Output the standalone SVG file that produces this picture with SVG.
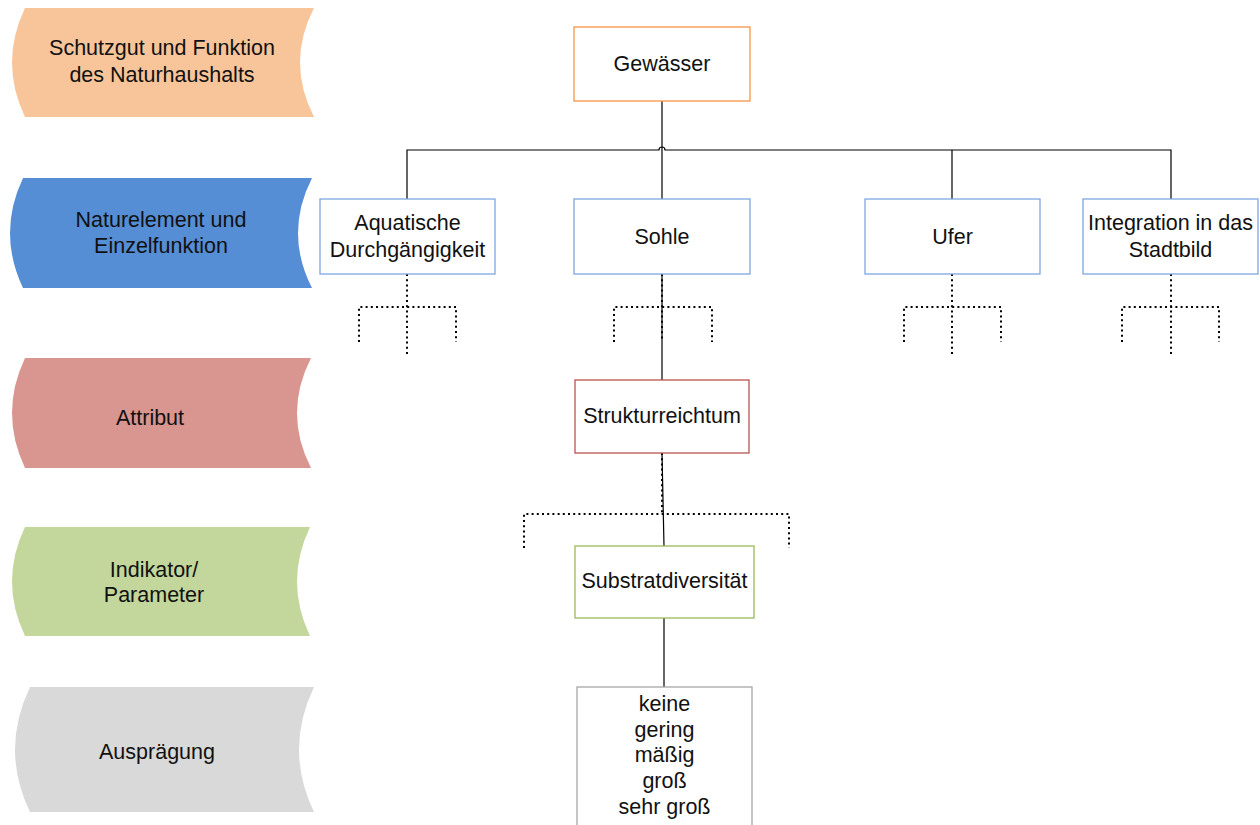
<svg xmlns="http://www.w3.org/2000/svg" width="1260" height="825" viewBox="0 0 1260 825">
  <style>
    text { font-family: "Liberation Sans", Arial, sans-serif; font-size: 21.5px; fill: #111; text-anchor: middle; }
    .box { fill: #fff; stroke-width: 1.3; }
    .solid { fill: none; stroke: #000; stroke-width: 1.2; }
    .dot { fill: none; stroke: #000; stroke-width: 2; stroke-dasharray: 2 3.2; }
  </style>
  <rect width="1260" height="825" fill="#fff"/>

  <!-- level bands on the left -->
  <g id="band-schutzgut">
    <path d="M25,8 L314,8 Q286,62.5 314,117 L25,117 Q-1,62.5 25,8 Z" fill="#f8c59b"/>
    <text x="162" y="55">Schutzgut und Funktion</text>
    <text x="162" y="82">des Naturhaushalts</text>
  </g>
  <g id="band-naturelement">
    <path d="M23,178 L312,178 Q284,233 312,288 L23,288 Q-3,233 23,178 Z" fill="#558ed5"/>
    <text x="161" y="227">Naturelement und</text>
    <text x="161" y="253">Einzelfunktion</text>
  </g>
  <g id="band-attribut">
    <path d="M25,358 L311,358 Q283,413 311,468 L25,468 Q-1,413 25,358 Z" fill="#d9958f"/>
    <text x="150" y="425">Attribut</text>
  </g>
  <g id="band-indikator">
    <path d="M25,527 L310,527 Q284,581.5 310,636 L25,636 Q-1,581.5 25,527 Z" fill="#c3d69b"/>
    <text x="154" y="577">Indikator/</text>
    <text x="154" y="602">Parameter</text>
  </g>
  <g id="band-auspraegung">
    <path d="M30,687 L314,687 Q284,749.5 314,812 L30,812 Q0,749.5 30,687 Z" fill="#d9d9d9"/>
    <text x="157" y="759">Ausprägung</text>
  </g>

  <!-- connectors -->
  <g id="connectors">
    <!-- tree from Gewässer, with a hop where the trunk crosses the bar -->
    <path class="solid" d="M407,199 L407,150 L659,150 A3,3 0 0 1 665,150 L1171,150 L1171,199"/>
    <path class="solid" d="M952,150 L952,199"/>
    <path class="solid" d="M662,101 L662,380"/>
    <path class="solid" d="M662,453 L664,546"/>
    <path class="solid" d="M664,618 L664,687"/>

    <!-- dotted branches below each element -->
    <path class="dot" d="M407,274 L407,355 M359,342 L359,307 L456,307 L456,342"/>
    <path class="dot" d="M662,274 L662,340 M614,342 L614,307 L712,307 L712,342"/>
    <path class="dot" d="M952,274 L952,355 M904,342 L904,307 L1001,307 L1001,342"/>
    <path class="dot" d="M1171,274 L1171,355 M1122,342 L1122,307 L1219,307 L1219,342"/>
    <path class="dot" d="M662,453 L662,514 M524,548 L524,514 L789,514 L789,548"/>
  </g>

  <!-- nodes -->
  <g id="node-gewaesser">
    <rect class="box" x="574" y="27" width="176" height="74" stroke="#f79646"/>
    <text x="662" y="71">Gewässer</text>
  </g>
  <g id="node-aquatische">
    <rect class="box" x="320" y="199" width="175" height="75" stroke="#7ea6e0"/>
    <text x="407.5" y="230">Aquatische</text>
    <text x="407.5" y="257">Durchgängigkeit</text>
  </g>
  <g id="node-sohle">
    <rect class="box" x="574" y="199" width="176" height="75" stroke="#7ea6e0"/>
    <text x="662" y="244">Sohle</text>
  </g>
  <g id="node-ufer">
    <rect class="box" x="865" y="199" width="175" height="75" stroke="#7ea6e0"/>
    <text x="952.5" y="244">Ufer</text>
  </g>
  <g id="node-integration">
    <rect class="box" x="1083" y="199" width="175" height="75" stroke="#7ea6e0"/>
    <text x="1170.5" y="230">Integration in das</text>
    <text x="1170.5" y="257">Stadtbild</text>
  </g>
  <g id="node-strukturreichtum">
    <rect class="box" x="575" y="380" width="174" height="73" stroke="#b85450"/>
    <text x="662" y="423">Strukturreichtum</text>
  </g>
  <g id="node-substratdiversitaet">
    <rect class="box" x="575" y="546" width="179" height="72" stroke="#9bbb59"/>
    <text x="664.5" y="588">Substratdiversität</text>
  </g>
  <g id="node-stufen">
    <rect class="box" x="577" y="687" width="175" height="150" stroke="#a6a6a6"/>
    <text x="664.5" y="711">keine</text>
    <text x="664.5" y="737">gering</text>
    <text x="664.5" y="762">mäßig</text>
    <text x="664.5" y="788">groß</text>
    <text x="664.5" y="814">sehr groß</text>
  </g>
</svg>
